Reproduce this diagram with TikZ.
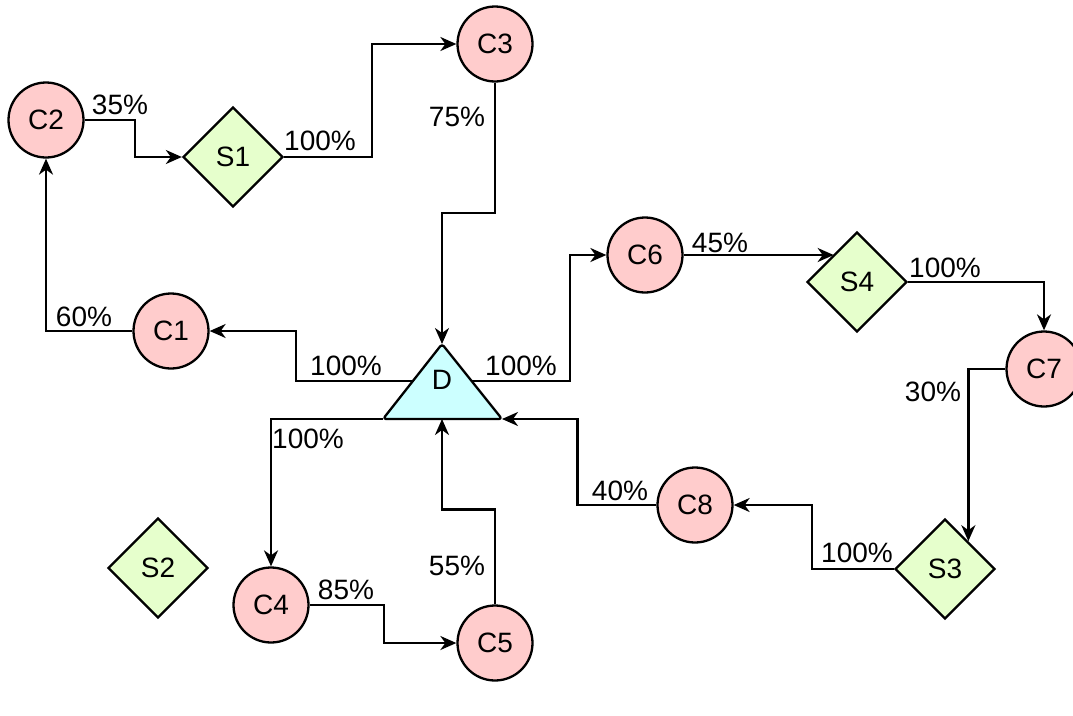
\documentclass[tikz,border=0pt]{standalone}
\usepackage{fontspec}
\setmainfont{Liberation Sans}
\usetikzlibrary{arrows.meta,shapes.geometric}
\definecolor{cfill}{RGB}{255,204,204}
\definecolor{sfill}{RGB}{230,255,204}
\definecolor{dfill}{RGB}{204,255,255}
\tikzset{
  every node/.style={font=\fontsize{28}{31}\selectfont},
  cnode/.style={circle, draw, line width=2.3pt, fill=cfill, minimum size=75pt, inner sep=0pt},
  snode/.style={diamond, draw, line width=2.3pt, fill=sfill, minimum width=100pt, minimum height=100pt, inner sep=0pt},
  lbl/.style={inner sep=0pt},
  arr/.style={line width=2.3pt, -{Stealth[length=16pt,width=14pt,inset=5pt]}},
}
\begin{document}
\begin{tikzpicture}[x=1pt,y=-1pt]
\useasboundingbox (0,0) rectangle (1073,715);
% nodes
\node[cnode] (C1) at (171,331) {C1};
\node[cnode] (C2) at (46,120) {C2};
\node[cnode] (C3) at (495,44) {C3};
\node[cnode] (C4) at (271,605) {C4};
\node[cnode] (C5) at (495,643) {C5};
\node[cnode] (C6) at (645,255) {C6};
\node[cnode] (C7) at (1044,369) {C7};
\node[cnode] (C8) at (695,505) {C8};
\node[snode] (S1) at (233,157) {S1};
\node[snode] (S2) at (158,568) {S2};
\node[snode] (S3) at (945,569) {S3};
\node[snode] (S4) at (857,282) {S4};
% triangle D
\coordinate (Dtop) at (442,344);
\coordinate (Dbl) at (383,419);
\coordinate (Dbr) at (502,419);
\coordinate (Dl) at (412,381);
\coordinate (Dr) at (472,381);
\coordinate (Db) at (442,419);
\draw[line width=2.3pt, fill=dfill, rounded corners=3pt, line join=round] (Dtop) -- (Dbr) -- (Dbl) -- cycle;
\node[lbl] (D) at (442,380) {D};
% connectors
\draw[arr] (C1.west) -| (C2.south);
\draw[arr] (C2.east) -- ++(50,0) |- (S1.west);
\draw[arr] (S1.east) -- ++(88,0) |- (C3.west);
\draw[arr] (C3.south) -- ++(0,130) -| (Dtop);
\draw[arr] (Dl) -- ++(-116,0) |- (C1.east);
\draw[arr] (Dr) -- ++(98,0) |- (C6.west);
\draw[arr] (Dbl) -| (C4.north);
\draw[arr] (C4.east) -- ++(74,0) |- (C5.west);
\draw[arr] (C5.north) -- ++(0,-95) -| (Db);
\draw[arr] (C6.east) -- (C6.east -| S4.130);
\draw[arr] (S4.east) -| (C7.north);
\draw[arr] (C7.west) -| (S3.50);
\draw[arr] (S3.west) -- ++(-82,0) |- (C8.east);
\draw[arr] (C8.west) -- ++(-79,0) |- (Dbr);
% labels
\node[lbl] (l60) at (84,317) {60\%};
\node[lbl] (l35) at (120,105) {35\%};
\node[lbl] (l100a) at (320,141) {100\%};
\node[lbl] (l75) at (457,117) {75\%};
\node[lbl] (l100b) at (346,366) {100\%};
\node[lbl] (l100c) at (521,366) {100\%};
\node[lbl] (l100d) at (308,439) {100\%};
\node[lbl] (l85) at (346,590) {85\%};
\node[lbl] (l55) at (457,566) {55\%};
\node[lbl] (l45) at (720,243) {45\%};
\node[lbl] (l100e) at (945,268) {100\%};
\node[lbl] (l30) at (933,392) {30\%};
\node[lbl] (l40) at (620,491) {40\%};
\node[lbl] (l100f) at (857,553) {100\%};
\end{tikzpicture}
\end{document}
